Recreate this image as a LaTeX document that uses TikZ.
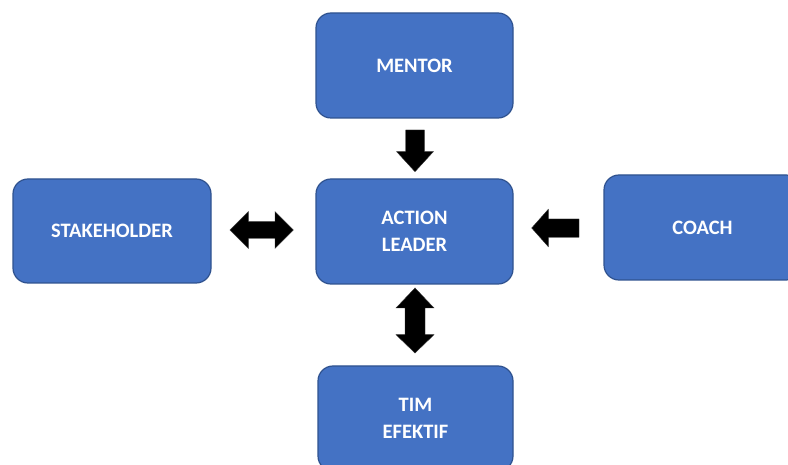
\documentclass[tikz,border=0pt]{standalone}
\usepackage{fontspec}
\setmainfont{Carlito}
\definecolor{boxblue}{HTML}{4472C4}
\definecolor{boxborder}{HTML}{2F528F}
\tikzset{
  blockbox/.style={draw=boxborder, line width=1.2pt, fill=boxblue, rounded corners=15pt,
    text=white, font=\bfseries\fontsize{20.5}{27}\selectfont, align=center,
    minimum width=197pt, minimum height=105pt, inner sep=0pt},
  blockarrow/.style={fill=black, draw=black!80, line width=0.4pt, line join=miter}
}
\begin{document}
\begin{tikzpicture}[x=1pt,y=-1pt]
\useasboundingbox (0,0) rectangle (788,465);
\clip (0,0) rectangle (788,465);
\fill[white] (0,0) rectangle (788,465);
% boxes
\node[blockbox] (mentor) at (414.5,65.5) {MENTOR};
\node[blockbox, minimum width=198pt, minimum height=104pt] (stake) at (112,231) {STAKEHOLDER};
\node[blockbox] (action) at (414.5,231.5) {ACTION\\LEADER};
\node[blockbox] (coach) at (702.5,227.5) {COACH};
\node[blockbox, minimum width=195pt] (tim) at (415.5,418.5) {TIM\\EFEKTIF};
% block arrows
% mentor -> action (down)
\fill[blockarrow] (405.7,130) -- (424.3,130) -- (424.3,151.7) -- (433.3,151.7) -- (415,171.7)
  -- (396.7,151.7) -- (405.7,151.7) -- cycle;
% coach -> action (left)
\fill[blockarrow] (579,219) -- (579,237.3) -- (548.3,237.3) -- (548.3,246.7) -- (531.7,228)
  -- (548.3,209.3) -- (548.3,219) -- cycle;
% stakeholder <-> action
\fill[blockarrow] (230,230) -- (248.3,211.7) -- (248.3,221.7) -- (275,221.7) -- (275,211.7)
  -- (293.3,230) -- (275,248.3) -- (275,238.3) -- (248.3,238.3) -- (248.3,248.3) -- cycle;
% action <-> tim
\fill[blockarrow] (415,288) -- (434,308) -- (425,308) -- (425,334.7) -- (434,334.7)
  -- (415,353) -- (396,334.7) -- (405,334.7) -- (405,308) -- (396,308) -- cycle;
\end{tikzpicture}
\end{document}
